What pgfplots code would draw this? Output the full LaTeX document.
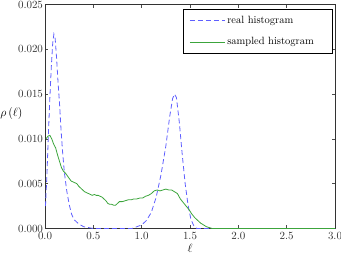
\documentclass[border=0pt]{standalone}
\usepackage{pgfplots}
\pgfplotsset{compat=1.18}
\definecolor{realblue}{RGB}{95,95,255}
\definecolor{sampgreen}{RGB}{60,165,60}
\begin{document}
\begin{tikzpicture}
\begin{axis}[
  scale only axis,
  width=290pt, height=224pt,
  xmin=0, xmax=3, ymin=0, ymax=0.025,
  xtick={0,0.5,...,3.0},
  ytick={0,0.005,0.010,0.015,0.020,0.025},
  scaled y ticks=false,
  ticklabel style={color=black!80, font=\fontsize{11}{13}\selectfont},
  xticklabel style={/pgf/number format/.cd,fixed,fixed zerofill,precision=1},
  yticklabel style={/tikz/xshift=1.5pt,/pgf/number format/.cd,fixed,fixed zerofill,precision=3},
  tick align=inside,
  major tick length=3.5pt,
  tick style={color=black!70, line width=0.5pt},
  axis line style={color=black!80, line width=0.6pt},
  xtick pos=both, ytick pos=both,
  xlabel={$\ell$},
  every axis x label/.style={at={(rel axis cs:0.5,0)}, anchor=center, yshift=-19.5pt, font=\fontsize{12}{14}\selectfont},
  ylabel={$\rho\left(\ell\right)$},
  every axis y label/.style={at={(rel axis cs:-0.077,0.515)}, anchor=east, inner sep=0pt, font=\fontsize{12}{14}\selectfont},
  legend style={at={(rel axis cs:0.99,0.982)}, anchor=north east, draw=black, fill=white,
    line width=0.6pt, inner xsep=6pt, inner ysep=5pt, row sep=9pt, font=\fontsize{10.5}{12}\selectfont,
    cells={anchor=west}},
  legend image code/.code={\draw[#1] (0pt,0pt) -- (35pt,0pt);},
]
\addplot[realblue, line width=0.8pt, dash pattern=on 5pt off 3pt] coordinates {
(0.005,0.0025) (0.02,0.006) (0.035,0.0105) (0.05,0.0145) (0.065,0.018) (0.08,0.0207)
(0.092,0.0217) (0.105,0.0212) (0.12,0.0190) (0.135,0.0163) (0.15,0.0140) (0.165,0.0112)
(0.18,0.0088) (0.2,0.0063) (0.225,0.0042) (0.25,0.0027) (0.275,0.0016) (0.3,0.0010)
(0.35,0.0005) (0.4,0.0002) (0.45,0.0001) (0.5,0.0) (0.6,0.0) (0.7,0.0) (0.8,0.0) (0.9,0.0)
(0.95,0.0002) (1.0,0.0004) (1.05,0.0009) (1.1,0.0018) (1.15,0.0035) (1.2,0.0060)
(1.25,0.0092) (1.29,0.0125) (1.32,0.0145) (1.34,0.0150) (1.36,0.0146) (1.39,0.0118)
(1.42,0.0082) (1.45,0.0050) (1.48,0.0026) (1.51,0.0010) (1.54,0.0003) (1.57,0.0)
(2.0,0.0) (2.5,0.0) (3.0,0.0)
};
\addlegendentry{real histogram}
\addplot[sampgreen, line width=0.8pt] coordinates {
(0.01,0.0100) (0.03,0.0103) (0.05,0.0104) (0.07,0.0100) (0.09,0.0094) (0.11,0.0090)
(0.13,0.0082) (0.15,0.0075) (0.17,0.0068) (0.19,0.0064) (0.21,0.0062) (0.23,0.0059)
(0.25,0.0056) (0.27,0.0053) (0.29,0.0052) (0.31,0.0051) (0.33,0.0050) (0.35,0.0047)
(0.37,0.0045) (0.39,0.0043) (0.41,0.0041) (0.43,0.0040) (0.45,0.0039) (0.47,0.0038)
(0.49,0.0037) (0.51,0.0038) (0.53,0.0037) (0.55,0.0037) (0.57,0.0036) (0.59,0.0035)
(0.61,0.0033) (0.63,0.0031) (0.65,0.0028) (0.67,0.0027) (0.69,0.0027) (0.71,0.0026)
(0.73,0.0026) (0.75,0.0028) (0.77,0.0030) (0.80,0.0030) (0.83,0.0031) (0.86,0.0032)
(0.89,0.0032) (0.92,0.0033) (0.95,0.0033) (0.98,0.0034) (1.01,0.0034) (1.04,0.0036)
(1.07,0.0037) (1.10,0.0039) (1.13,0.0042) (1.16,0.0043) (1.19,0.0042) (1.22,0.0043)
(1.25,0.0044) (1.28,0.0043) (1.31,0.0043) (1.34,0.0041) (1.37,0.0039) (1.40,0.0033)
(1.43,0.0029) (1.46,0.0025) (1.49,0.0021) (1.52,0.0016) (1.55,0.0012) (1.58,0.0009)
(1.61,0.0006) (1.64,0.0004) (1.67,0.0002) (1.70,0.0001) (1.73,0.0) (2.0,0.0) (2.5,0.0) (3.0,0.0)
};
\addlegendentry{sampled histogram\hspace*{10pt}}
\coordinate (bl) at (rel axis cs:0,0);
\coordinate (tr) at (rel axis cs:1,1);
\end{axis}
\pgfresetboundingbox
\path[use as bounding box] ([xshift=-45pt,yshift=-25.5pt]bl) rectangle ([xshift=6pt,yshift=4.5pt]tr);
\end{tikzpicture}
\end{document}
